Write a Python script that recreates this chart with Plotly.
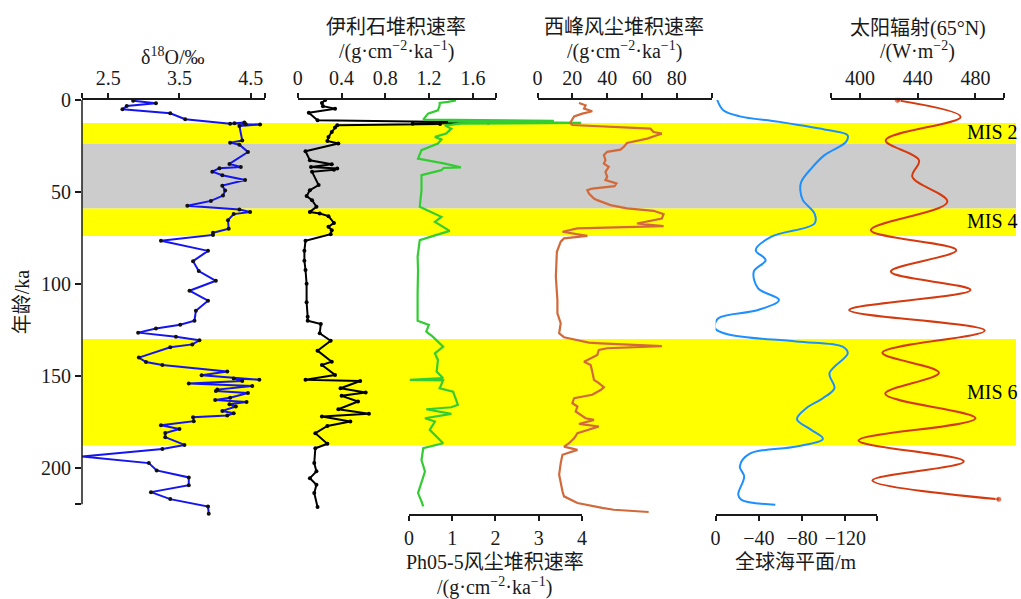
import plotly.graph_objects as go

# ---------------- data (age in ka) ----------------
d18o_age = [0.4, 1.8, 3.3, 5.1, 7.2, 10.5, 12.9, 12.2, 12.6, 13.2, 13.3, 14.1, 22.1, 23.2, 24.3,
            28.3, 34.8, 36.4, 37.1, 39.0, 40.9, 43.5, 46.6, 49.3, 52.0, 54.9, 57.6, 59.6, 60.9,
            62.1, 65.4, 70.1, 72.3, 73.4, 76.6, 82.1, 87.7, 93.1, 98.4, 103.8, 109.2, 114.7,
            120.1, 122.3, 124.3, 126.6, 128.8, 130.8, 133.0, 134.6, 140.2, 142.6, 144.2, 147.8,
            149.8, 152.2, 151.6, 152.9, 154.3, 155.6, 157.6, 158.3, 159.4, 162.0, 163.2, 164.3,
            165.6, 166.8, 169.2, 170.5, 171.7, 172.6, 174.8, 177.0, 179.0, 181.2, 183.5, 187.7,
            189.9, 194.0, 197.6, 201.6, 205.4, 209.6, 213.4, 217.2, 221.2, 225.2]
d18o_val = [2.85, 3.17, 2.76, 2.70, 3.37, 3.58, 4.21, 4.41, 4.27, 4.43, 4.63, 4.34, 4.38, 4.21, 4.34,
            4.46, 4.20, 4.36, 4.06, 3.96, 4.10, 4.42, 4.10, 4.14, 4.11, 3.94, 3.61, 4.34, 4.49,
            4.26, 4.18, 4.19, 3.97, 3.97, 3.24, 3.90, 3.69, 3.77, 4.01, 3.64, 3.90, 3.73,
            3.71, 3.51, 3.17, 2.92, 3.45, 3.78, 3.68, 3.37, 2.93, 3.03, 3.26, 4.17,
            3.81, 4.62, 4.26, 4.38, 3.63, 4.52, 4.03, 4.01, 4.46, 4.21, 4.00, 4.44,
            4.20, 4.29, 4.10, 4.26, 4.17, 3.69, 3.70, 3.24, 3.50, 3.30, 3.30, 3.57,
            3.26, 2.13, 3.07, 3.18, 3.63, 3.63, 3.10, 3.37, 3.90, 3.91]

illite_age = [0.0, 1.6, 3.4, 4.7, 6.9, 11.0, 12.3, 12.5, 12.7, 12.9, 13.1, 13.8, 15.0, 17.4, 20.1,
              22.3, 23.7, 27.9, 32.8, 35.0, 36.4, 37.3, 38.0, 39.1, 46.3, 49.1, 52.3, 54.5, 58.1,
              60.9, 61.8, 63.2, 66.9, 69.0, 70.9, 73.0, 76.6, 82.0, 87.5, 92.5, 100.0, 110.0,
              118.0, 120.1, 121.9, 127.0, 131.0, 136.4, 142.4, 144.2, 149.6, 152.3, 152.9, 156.9,
              159.2, 161.0, 164.1, 168.3, 170.8, 172.3, 175.0, 177.4, 181.3, 187.1, 189.5, 197.6,
              202.1, 205.8, 209.4, 213.9, 221.5]
illite_val = [0.25, 0.22, 0.23, 0.34, 0.10, 0.18, 1.74, 1.20, 1.40, 1.05, 1.30, 0.36, 0.34, 0.31, 0.28,
              0.27, 0.37, 0.07, 0.11, 0.31, 0.12, 0.36, 0.33, 0.13, 0.19, 0.11, 0.08, 0.13, 0.17,
              0.11, 0.20, 0.28, 0.33, 0.28, 0.31, 0.30, 0.07, 0.06, 0.06, 0.07, 0.08, 0.08,
              0.09, 0.09, 0.21, 0.20, 0.30, 0.18, 0.31, 0.22, 0.34, 0.07, 0.57, 0.39,
              0.62, 0.40, 0.55, 0.37, 0.65, 0.22, 0.48, 0.27, 0.16, 0.27, 0.16, 0.15,
              0.17, 0.11, 0.17, 0.15, 0.18]

ph05_age = [0.2, 1.0, 1.6, 2.9, 5.6, 7.4, 10.7, 11.3, 11.7, 12.4, 12.9, 13.8, 15.6, 18.3, 20.1, 21.5,
            23.7, 27.3, 31.9, 34.6, 36.7, 37.0, 38.2, 40.9, 49.1, 58.1, 63.6, 66.3, 71.2, 76.3,
            85.3, 92.5, 105.0, 120.1, 122.4, 126.1, 128.8, 134.2, 137.9, 141.5, 147.8, 151.4,
            152.3, 152.6, 156.9, 158.7, 163.2, 165.9, 167.2, 168.3, 170.8, 173.2, 175.0, 179.5,
            186.8, 189.5, 195.9, 202.2, 213.9, 218.4, 221.1]
ph05_val = [1.09, 0.90, 0.71, 0.71, 0.67, 0.44, 0.33, 3.35, 0.9, 3.98, 1.2, 0.83, 0.98, 0.86, 0.60, 0.75,
            0.67, 0.29, 0.21, 0.83, 1.20, 0.80, 0.75, 0.29, 0.29, 0.25, 0.75, 0.60, 0.94, 0.25,
            0.20, 0.21, 0.20, 0.20, 0.46, 0.40, 0.55, 0.79, 0.60, 0.67, 0.64, 0.79,
            0.02, 0.79, 0.71, 1.02, 1.09, 1.13, 0.98, 0.40, 0.98, 0.37, 0.60, 0.48,
            0.79, 0.33, 0.29, 0.37, 0.21, 0.29, 0.33]

xifeng_age = [1.6, 2.9, 4.7, 6.1, 7.4, 8.9, 12.5, 13.6, 15.6, 17.4, 18.3, 19.2, 21.0, 23.4, 25.5,
              27.0, 28.2, 30.0, 32.8, 34.6, 36.4, 39.1, 41.8, 43.6, 45.4, 46.9, 48.2, 49.1, 50.9,
              53.6, 54.5, 57.2, 59.0, 60.3, 62.1, 64.5, 67.2, 68.6, 69.9, 71.7, 73.9, 75.3, 77.1,
              82.6, 96.2, 108.9, 116.1, 121.5, 127.0, 129.1, 132.0, 132.4, 133.9, 135.1, 136.0,
              138.8, 142.4, 144.2, 147.8, 152.3, 154.1, 156.3, 157.8, 160.4, 162.3, 165.0, 166.8,
              169.5, 173.2, 174.1, 176.3, 177.7, 181.3, 184.1, 186.8, 188.6, 190.4, 193.1, 197.6,
              203.9, 212.9, 215.7, 219.3, 222.0, 223.0, 224.2]
xifeng_val = [23.8, 27.6, 26.7, 31.4, 25.7, 21.0, 18.7, 20.0, 64.8, 66.7, 71.4, 68.6, 63.0, 51.4, 49.5,
              47.6, 40.0, 38.1, 39.0, 38.1, 40.9, 39.0, 40.0, 39.0, 45.3, 44.2, 31.4, 28.6, 29.5,
              32.4, 34.3, 41.9, 51.4, 66.7, 72.4, 71.4, 57.1, 72.4, 22.9, 14.3, 28.6, 15.2, 13.3,
              11.1, 10.5, 11.4, 11.4, 13.3, 12.4, 15.2, 29.5, 36.2, 71.4, 40.0, 35.2,
              34.3, 26.7, 30.5, 31.4, 32.4, 35.2, 38.1, 36.2, 31.4, 21.0, 20.0, 22.9,
              21.9, 27.6, 32.4, 23.8, 35.2, 22.9, 21.0, 18.1, 15.2, 22.9, 14.3, 13.3,
              12.4, 14.3, 15.2, 22.9, 37.1, 43.8, 63.8]

sealevel_age = [0.0, 5.6, 8.9, 11.9, 16.5, 19.2, 22.8, 30.0, 37.3, 44.5, 49.1, 54.5, 61.8, 67.2,
                74.4, 81.7, 87.1, 93.4, 102.5, 108.8, 114.3, 118.8, 124.2, 127.8, 131.4, 134.2,
                137.8, 148.7, 156.8, 162.3, 167.7, 173.7, 179.5, 184.4, 188.6, 192.5, 199.4,
                204.9, 214.8, 217.6, 220.2]
sealevel_val = [-1.5, -7.1, -22.3, -59.2, -105.0, -122.0, -120.6, -100.7, -88.4, -79.2, -78.3, -80.7,
                -91.5, -91.5, -51.6, -37.1, -46.3, -35.3, -39.3, -58.6, -39.3, -2.5, 0.6, -13.2,
                -74.6, -117.5, -122.2, -105.3, -109.9, -99.2, -83.8, -75.2, -88.4, -99.2, -74.6,
                -31.6, -22.4, -26.4, -20.9, -23.9, -55.2]

insol_age = [0.2, 9.2, 21.9, 32.8, 41.8, 55.4, 70.8, 81.7, 93.4, 103.4, 114.3, 125.5, 137.5,
             148.4, 159.9, 173.2, 185.3, 196.7, 207.0, 217.3]
insol_val = [426.0, 469.7, 417.9, 440.9, 436.3, 460.5, 407.6, 466.7, 421.4, 476.6, 392.6, 486.4,
             415.6, 454.7, 417.5, 480.0, 399.1, 471.9, 408.7, 496.1]

# marine isotope stage bands: (top, bottom, colour)
band_top = [12.5, 24.0, 59.0, 130.0]
band_bot = [24.0, 59.0, 74.0, 188.0]
band_col = ["#ffff00", "#cccccc", "#ffff00", "#ffff00"]
mis_label = ["MIS 2", "MIS 4", "MIS 6"]
mis_age = [17.4, 65.9, 158.7]

# ---------------- layout geometry ----------------
W, H = 1021, 599
ML, MR, MT, MB = 82, 0, 100, 85
PW, PH = W - ML - MR, H - MT - MB
AGE_BOTTOM = 225.3


def px_x(px):
    return (px - ML) / PW


def px_y(py):
    return (H - MB - py) / PH


FONT = "Liberation Serif, Times New Roman, Noto Sans CJK SC, serif"
INK = "#1a1a1a"

fig = go.Figure()

fig.add_trace(go.Scatter(x=d18o_val, y=d18o_age, xaxis="x", yaxis="y", mode="lines+markers",
                         line=dict(color="#1414f0", width=2, simplify=False),
                         marker=dict(color="#111111", size=4), cliponaxis=False))
fig.add_trace(go.Scatter(x=illite_val, y=illite_age, xaxis="x2", yaxis="y", mode="lines+markers",
                         line=dict(color="#000000", width=2, simplify=False),
                         marker=dict(color="#000000", size=4)))
fig.add_trace(go.Scatter(x=ph05_val, y=ph05_age, xaxis="x3", yaxis="y", mode="lines",
                         line=dict(color="#33cc33", width=2.2, simplify=False)))
fig.add_trace(go.Scatter(x=xifeng_val, y=xifeng_age, xaxis="x4", yaxis="y", mode="lines",
                         line=dict(color="#d2693a", width=2.2, simplify=False)))
fig.add_trace(go.Scatter(x=sealevel_val, y=sealevel_age, xaxis="x5", yaxis="y", mode="lines",
                         line=dict(color="#1e8fff", width=2, shape="spline", smoothing=1.0)))
insol_sizes = [6] + [0] * (len(insol_val) - 2) + [6]
fig.add_trace(go.Scatter(x=insol_val, y=insol_age, xaxis="x6", yaxis="y", mode="lines+markers",
                         line=dict(color="#d43a10", width=2, shape="spline", smoothing=1.0),
                         marker=dict(color="#d43a10", size=insol_sizes), cliponaxis=False))

tick_font = dict(family=FONT, size=20, color=INK)


def xaxis(dom, rng, side, tickvals, ticktext):
    return dict(domain=[px_x(dom[0]), px_x(dom[1])], range=rng, side=side, anchor="y",
                showline=True, linecolor=INK, linewidth=1.5, ticks="outside", ticklen=5,
                tickwidth=1.5, tickcolor=INK, tickvals=tickvals, ticktext=ticktext,
                showgrid=False, zeroline=False, tickfont=tick_font, fixedrange=True)


fig.update_layout(
    width=W, height=H, margin=dict(l=ML, r=MR, t=MT, b=MB),
    paper_bgcolor="white", plot_bgcolor="rgba(0,0,0,0)", showlegend=False,
    xaxis=xaxis((82, 265.7), [2.133, 4.695], "top", [2.133, 2.5, 3.5, 4.5, 4.695],
                ["", "2.5", "3.5", "4.5", ""]),
    xaxis2=xaxis((299, 498.3), [0, 1.812], "top", [0, 0.4, 0.8, 1.2, 1.6, 1.812],
                 ["0", "0.4", "0.8", "1.2", "1.6", ""]),
    xaxis3=xaxis((410.7, 584.7), [0, 4], "bottom", [0, 1, 2, 3, 4], ["0", "1", "2", "3", "4"]),
    xaxis4=xaxis((540, 715), [0, 100], "top", [0, 20, 40, 60, 80, 100],
                 ["0", "20", "40", "60", "80", ""]),
    xaxis5=xaxis((719, 881), [0, -149], "bottom", [0, -40, -80, -120, -149],
                 ["0", "\u221240", "\u221280", "\u2212120", ""]),
    xaxis6=xaxis((835, 1009.3), [380, 500], "top", [380, 400, 440, 480, 500],
                 ["", "400", "440", "480", ""]),
    yaxis=dict(domain=[0, 1], range=[AGE_BOTTOM, 0], anchor="x", showline=False,
               ticks="outside", ticklen=6, tickwidth=1.5, tickcolor=INK,
               tickvals=[0, 50, 100, 150, 200, 220], ticktext=["0", "50", "100", "150", "200", ""],
               showgrid=False, zeroline=False, tickfont=tick_font, fixedrange=True),
)

# stage bands across the full width
for t, b, c in zip(band_top, band_bot, band_col):
    fig.add_shape(type="rect", xref="paper", yref="y", x0=0, x1=1, y0=t, y1=b,
                  fillcolor=c, line=dict(width=0), layer="below")

# left age axis line stops at 220 ka
fig.add_shape(type="line", xref="paper", yref="y", x0=0, x1=0, y0=0, y1=220,
              line=dict(color=INK, width=1.5), layer="above")

title_font = dict(family=FONT, size=20, color=INK)


def label(text, cx, cy, angle=0, anchor="center"):
    fig.add_annotation(text=text, x=px_x(cx), y=px_y(cy), xref="paper", yref="paper",
                       xanchor=anchor, yanchor="middle", showarrow=False, font=title_font,
                       textangle=angle)


label("δ<sup>18</sup>O/‰", 173, 56)
label("伊利石堆积速率", 398, 27)
label("/(g·cm<sup>−2</sup>·ka<sup>−1</sup>)", 398, 51)
label("西峰风尘堆积速率", 627, 27)
label("/(g·cm<sup>−2</sup>·ka<sup>−1</sup>)", 627, 51)
label("太阳辐射(65°N)", 922, 29)
label("/(W·m<sup>−2</sup>)", 922, 51)
label("Ph05-5风尘堆积速率", 497, 562)
label("/(g·cm<sup>−2</sup>·ka<sup>−1</sup>)", 497, 586)
label("全球海平面/m", 800, 562)
label("年龄/ka", 22, 302, angle=-90)

for txt, a in zip(mis_label, mis_age):
    fig.add_annotation(text=txt, x=px_x(970), y=a, xref="paper", yref="y", xanchor="left",
                       yanchor="middle", showarrow=False, font=dict(family=FONT, size=20, color="#000"))

fig.write_html("out.html")
